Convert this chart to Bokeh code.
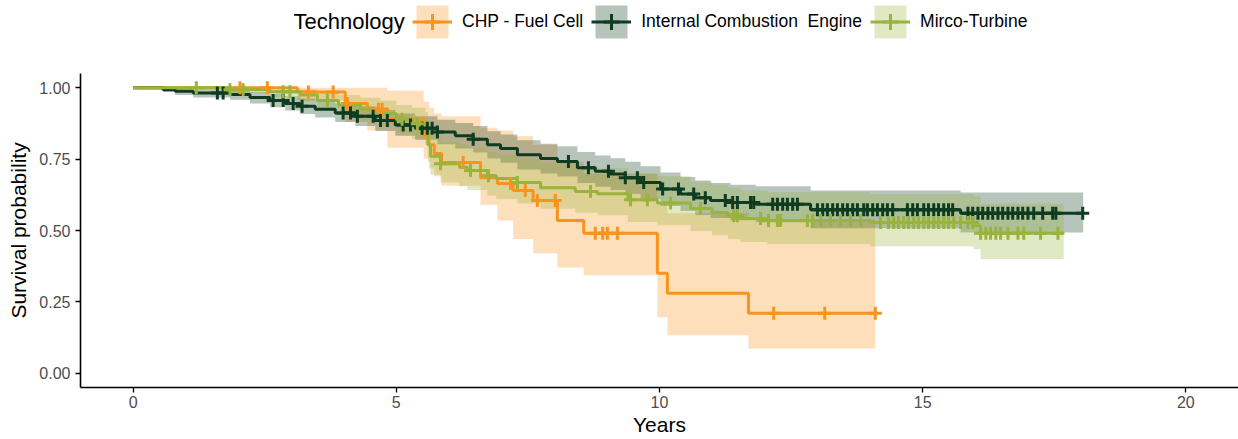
import numpy as np
from bokeh.plotting import figure
from bokeh.layouts import column
from bokeh.models import Range1d, FixedTicker, Legend, LegendItem, Label, NumeralTickFormatter
from bokeh.embed import file_html
from bokeh.resources import INLINE

FONT = "Liberation Sans"

groups = ["CHP - Fuel Cell", "Internal Combustion  Engine", "Mirco-Turbine"]
colors = ["#F7941D", "#0F3B20", "#99B33B"]
legend_title = "Technology"

# ---- CHP - Fuel Cell ----
chp_time = [0, 3.12, 4.03, 4.45, 4.83, 5.52, 5.62, 5.72, 5.86, 6.60, 6.92, 7.22, 7.60, 8.06, 8.56, 9.96, 10.15, 11.69]
chp_surv = [1.0, 0.985, 0.945, 0.925, 0.89, 0.83, 0.80, 0.77, 0.738, 0.685, 0.665, 0.64, 0.605, 0.535, 0.49, 0.35, 0.28, 0.21]
chp_lower = [1.0, 0.955, 0.88, 0.85, 0.79, 0.752, 0.717, 0.69, 0.657, 0.59, 0.535, 0.47, 0.42, 0.37, 0.343, 0.196, 0.133, 0.087]
chp_upper = [1.0, 1.0, 1.0, 1.0, 0.99, 0.95, 0.93, 0.91, 0.90, 0.86, 0.85, 0.83, 0.80, 0.74, 0.70, 0.60, 0.56, 0.54]
chp_end = 14.1
chp_censor = [2.03, 2.55, 3.33, 3.80, 4.07, 4.66, 4.73, 6.27, 7.17, 7.45, 7.68, 8.02,
              8.78, 8.92, 9.01, 9.20, 12.17, 13.14, 14.10]

# ---- Internal Combustion Engine ----
ice_time = [0, 0.57, 0.8, 1.14, 1.84, 2.22, 2.6, 2.89, 3.17, 3.46, 3.84, 4.22, 4.6, 4.98, 5.36, 5.78,
            6.12, 6.46, 6.73, 6.98, 7.3, 7.74, 8.06, 8.44, 8.78, 9.07, 9.35, 9.64, 10.02, 10.4, 10.68,
            10.97, 11.35, 11.83, 12.87, 15.72]
ice_surv = [1.0, 0.993, 0.988, 0.982, 0.976, 0.966, 0.955, 0.945, 0.935, 0.925, 0.912, 0.90, 0.885,
            0.87, 0.858, 0.845, 0.832, 0.82, 0.80, 0.787, 0.765, 0.752, 0.742, 0.72, 0.708, 0.698,
            0.685, 0.668, 0.645, 0.628, 0.615, 0.605, 0.598, 0.592, 0.573, 0.56]
ice_lower = [1.0, 0.985, 0.975, 0.966, 0.958, 0.945, 0.932, 0.92, 0.908, 0.896, 0.88, 0.866, 0.849,
             0.832, 0.818, 0.802, 0.787, 0.773, 0.752, 0.737, 0.714, 0.70, 0.689, 0.666, 0.653,
             0.642, 0.628, 0.61, 0.586, 0.568, 0.554, 0.544, 0.536, 0.529, 0.508, 0.493]
ice_upper = [1.0, 1.0, 0.998, 0.995, 0.99, 0.985, 0.978, 0.97, 0.962, 0.955, 0.945, 0.935, 0.922,
             0.91, 0.90, 0.888, 0.877, 0.866, 0.848, 0.836, 0.816, 0.804, 0.795, 0.775, 0.763,
             0.753, 0.741, 0.725, 0.703, 0.687, 0.675, 0.666, 0.66, 0.655, 0.64, 0.633]
ice_end = 18.05
ice_censor = [1.60, 1.71, 2.66, 2.85, 3.04, 3.21, 3.99, 4.13, 4.26, 4.56, 4.70, 4.83, 5.13, 5.27,
              5.49, 5.59, 5.68, 5.78, 6.46, 8.27, 8.65, 9.03, 9.35, 9.58, 9.70, 10.06, 10.36,
              10.65, 10.87, 11.25, 11.39, 11.48, 11.73, 11.79, 12.15, 12.24, 12.34, 12.43, 12.53,
              12.62, 13.00, 13.10, 13.19, 13.29, 13.38, 13.48, 13.57, 13.67, 13.76, 13.88, 13.95,
              14.05, 14.14, 14.24, 14.33, 14.43, 14.71, 14.81, 14.90, 15.02, 15.11, 15.21, 15.30,
              15.40, 15.49, 15.57, 15.86, 15.95, 16.05, 16.14, 16.24, 16.33, 16.43, 16.52, 16.62,
              16.71, 16.81, 16.90, 17.00, 17.11, 17.28, 17.47, 17.53, 18.04]

# ---- Mirco-Turbine ----
mt_time = [0, 1.84, 2.6, 3.17, 3.5, 3.9, 4.32, 4.7, 5.0, 5.3, 5.55, 5.6, 5.65, 5.84, 6.2, 6.35,
           6.73, 6.9, 7.3, 7.74, 8.4, 8.82, 9.4, 9.96, 10.59, 11.0, 11.3, 11.54, 12.05, 14.0,
           15.97, 16.1]
mt_surv = [1.0, 0.993, 0.986, 0.975, 0.955, 0.94, 0.925, 0.91, 0.89, 0.874, 0.855, 0.80, 0.76,
           0.734, 0.722, 0.71, 0.692, 0.682, 0.668, 0.65, 0.637, 0.629, 0.608, 0.596, 0.577,
           0.563, 0.552, 0.542, 0.535, 0.528, 0.517, 0.49]
mt_lower = [1.0, 0.98, 0.968, 0.952, 0.925, 0.905, 0.885, 0.865, 0.84, 0.82, 0.80, 0.74, 0.695,
            0.668, 0.655, 0.642, 0.622, 0.61, 0.595, 0.576, 0.562, 0.553, 0.53, 0.518, 0.498,
            0.483, 0.47, 0.46, 0.453, 0.445, 0.434, 0.40]
mt_upper = [1.0, 1.0, 1.0, 0.995, 0.985, 0.975, 0.965, 0.955, 0.94, 0.93, 0.915, 0.87, 0.835,
            0.81, 0.80, 0.79, 0.775, 0.765, 0.752, 0.737, 0.725, 0.718, 0.70, 0.69, 0.672, 0.66,
            0.65, 0.64, 0.634, 0.628, 0.62, 0.594]
mt_end = 17.68
mt_censor = [1.20, 1.84, 2.09, 2.85, 2.98, 3.69, 5.11, 5.40, 5.84, 6.41, 6.75, 7.30, 8.69, 9.45,
             9.77, 10.21, 10.78, 11.41, 11.48, 11.92, 12.07, 12.24, 12.30, 12.81, 12.91, 13.06,
             13.25, 13.44, 13.63, 13.82, 14.20, 14.35, 14.45, 14.54, 14.64, 14.73, 14.83, 14.92,
             15.02, 15.11, 15.21, 15.30, 15.40, 15.49, 15.59, 15.72, 15.86, 15.95, 16.10, 16.20,
             16.29, 16.39, 16.48, 16.62, 16.81, 16.92, 17.24, 17.57]

x_ticks = [0, 5, 10, 15, 20]
y_ticks = [0.0, 0.25, 0.5, 0.75, 1.0]

series = [
    (chp_time, chp_surv, chp_lower, chp_upper, chp_end, chp_censor),
    (ice_time, ice_surv, ice_lower, ice_upper, ice_end, ice_censor),
    (mt_time, mt_surv, mt_lower, mt_upper, mt_end, mt_censor),
]


def extend(times, vals, end):
    return list(times) + [end], list(vals) + [vals[-1]]


def value_at(times, vals, t):
    idx = np.searchsorted(np.asarray(times), np.asarray(t), side="right") - 1
    return [vals[i] for i in idx]


def draw_series(fig):
    bands, lines, cens = [], [], []
    for (t, s, lo, hi, end, cz), c in zip(series, colors):
        x, ylo = extend(t, lo, end)
        _, yhi = extend(t, hi, end)
        bands.append(fig.varea_step(x=x, y1=ylo, y2=yhi, step_mode="after",
                                    fill_color=c, fill_alpha=0.3))
    for (t, s, lo, hi, end, cz), c in zip(series, colors):
        x, y = extend(t, s, end)
        lines.append(fig.step(x, y, mode="after", line_color=c, line_width=3))
    for (t, s, lo, hi, end, cz), c in zip(series, colors):
        cy = value_at(t, s, cz)
        cens.append(fig.scatter(cz, cy, marker="cross", size=13, line_color=c, line_width=3))
    return bands, lines, cens


# ---------------- main plot ----------------
p = figure(width=1238, height=366, output_backend="svg", toolbar_location=None,
           x_range=Range1d(-1, 21), y_range=Range1d(-0.05, 1.05),
           min_border_left=80, min_border_right=0, min_border_top=0, min_border_bottom=52)
p.outline_line_color = None
p.xgrid.visible = False
p.ygrid.visible = False
p.background_fill_color = "white"
p.border_fill_color = "white"
draw_series(p)

for ax in (p.xaxis[0], p.yaxis[0]):
    ax.axis_line_color = "black"
    ax.axis_line_width = 1.6
    ax.major_tick_line_color = "black"
    ax.major_tick_line_width = 1.3
    ax.major_tick_out = 5
    ax.major_tick_in = 0
    ax.minor_tick_line_color = None
    ax.major_label_text_font = FONT
    ax.major_label_text_font_size = "16px"
    ax.major_label_text_color = "#4D4D4D"
    ax.axis_label_text_font = FONT
    ax.axis_label_text_font_size = "21px"
    ax.axis_label_text_font_style = "normal"
    ax.axis_label_text_color = "black"

p.xaxis.ticker = FixedTicker(ticks=x_ticks)
p.yaxis.ticker = FixedTicker(ticks=y_ticks)
p.yaxis.formatter = NumeralTickFormatter(format="0.00")
p.xaxis.axis_label = "Years"
p.yaxis.axis_label = "Survival probability"
p.xaxis.major_label_standoff = 3
p.yaxis.major_label_standoff = 5
p.xaxis.axis_label_standoff = 2
p.yaxis.axis_label_standoff = 6

# ---------------- legend strip ----------------
top = figure(width=1238, height=73, output_backend="svg", toolbar_location=None,
             x_axis_location=None, y_axis_location=None,
             x_range=Range1d(-1, 21), y_range=Range1d(2, 3), min_border=0)
top.outline_line_color = None
top.background_fill_color = "white"
top.border_fill_color = "white"
top.grid.visible = False
tb, tl, tc = draw_series(top)

items = [LegendItem(label=g, renderers=[b, l, m]) for g, b, l, m in zip(groups, tb, tl, tc)]
legend = Legend(items=items, orientation="horizontal", location=(332, 31), padding=0, margin=0,
                spacing=8, label_standoff=10, glyph_width=40, glyph_height=41,
                label_text_font=FONT, label_text_font_size="17.5px", label_text_color="black",
                border_line_color=None, background_fill_alpha=0)
top.add_layout(legend)
top.add_layout(Label(x=213, y=52, x_units="screen", y_units="screen", text=legend_title,
                     text_font=FONT, text_font_size="22px", text_baseline="middle",
                     text_color="black"))

layout = column(top, p, spacing=0)
open("out.html", "w").write(file_html(layout, INLINE))
